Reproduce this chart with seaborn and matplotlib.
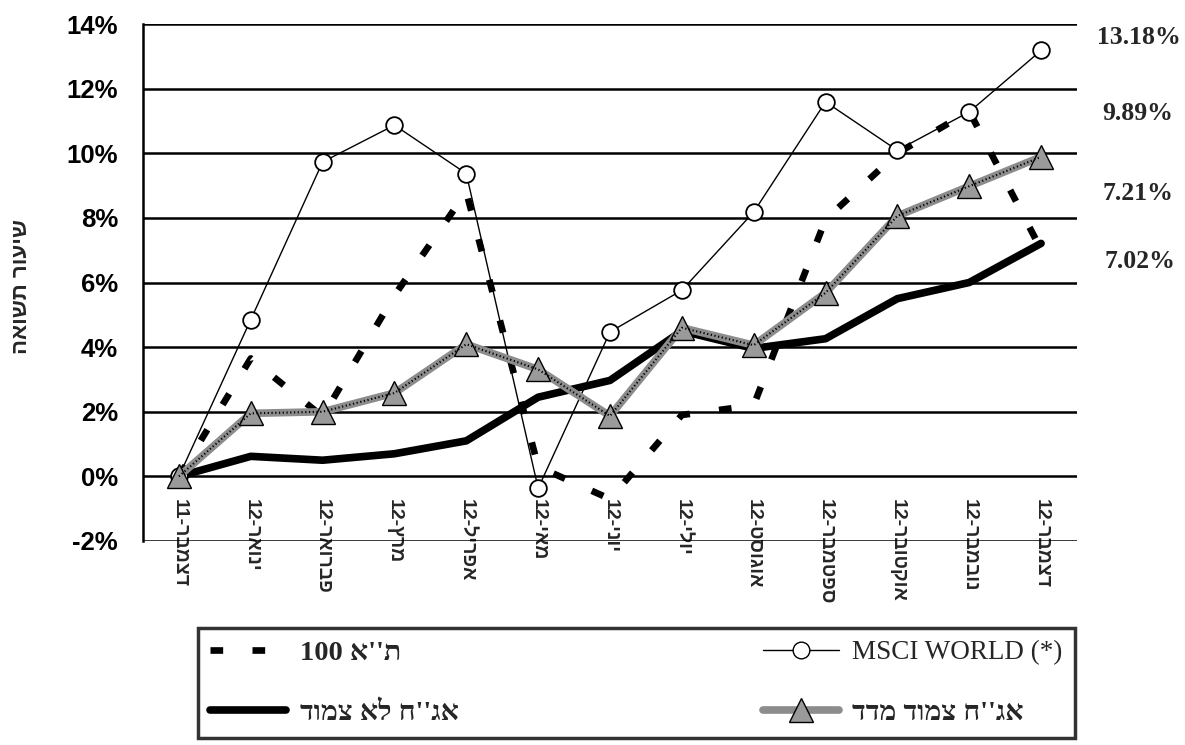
import numpy as np
import pandas as pd
import matplotlib
matplotlib.use("Agg")
import matplotlib.pyplot as plt
from matplotlib.lines import Line2D
import seaborn as sns

# ---- data -------------------------------------------------------------
months = ["דצמבר", "ינואר", "פברואר", "מרץ", "אפריל", "מאי", "יוני",
          "יולי", "אוגוסט", "ספטמבר", "אוקטובר", "נובמבר", "דצמבר"]
years = ["11"] + ["12"] * 12
msci = [0.0, 4.85, 9.73, 10.87, 9.37, -0.37, 4.47, 5.76, 8.18, 11.59, 10.09, 11.28, 13.18]
ta100 = [0.0, 3.65, 1.85, 5.6, 8.8, 0.3, -0.7, 1.9, 2.2, 7.95, 10.0, 11.3, 7.02]
madad = [0.0, 1.95, 2.0, 2.58, 4.09, 3.31, 1.87, 4.6, 4.06, 5.68, 8.06, 8.98, 9.89]
lo_madad = [0.0, 0.62, 0.5, 0.7, 1.1, 2.45, 2.97, 4.5, 3.96, 4.26, 5.5, 6.0, 7.21]
end_labels = ["13.18%", "9.89%", "7.21%", "7.02%"]
yticks = [-2, 0, 2, 4, 6, 8, 10, 12, 14]

lbl_ta = "ת''א 100"
lbl_msci = "MSCI WORLD (*)"
lbl_lo = "אג''ח לא צמוד"
lbl_madad = "אג''ח צמוד מדד"
ylabel = "שיעור תשואה"


def visual(s):
    """Hebrew right-to-left text laid out in visual (display) order."""
    parts = s.split(" ")
    out = []
    for p in parts[::-1]:
        out.append(p if p.isascii() else p[::-1])
    return " ".join(out)


# ---- style ------------------------------------------------------------
sns.set_style("white")
plt.rcParams["font.family"] = ["Liberation Sans", "DejaVu Sans"]
SERIF = ["Liberation Serif", "DejaVu Serif"]

df = pd.DataFrame({"x": np.arange(len(months)), "msci": msci, "ta": ta100,
                   "madad": madad, "lo": lo_madad})

fig = plt.figure(figsize=(11.85, 7.45), dpi=100)
ax = fig.add_axes([143 / 1185, 1 - 541 / 745, (1077 - 143) / 1185, (541 - 24) / 745])

# gridlines
for v in yticks:
    ax.axhline(v, color="black", lw=1.8, zorder=1)

TA_DASH = (1.9, 4.4)
TRI = dict(marker="^", markersize=17, markerfacecolor="#9a9a9a",
           markeredgecolor="black", markeredgewidth=1.0)

# series
sns.lineplot(data=df, x="x", y="lo", ax=ax, color="black", lw=5.5,
             solid_capstyle="round", zorder=3)
sns.lineplot(data=df, x="x", y="ta", ax=ax, color="black", lw=4.8,
             zorder=4).lines[-1].set_dashes(TA_DASH)
sns.lineplot(data=df, x="x", y="msci", ax=ax, color="black", lw=1.0,
             marker="o", markersize=12, markerfacecolor="white",
             markeredgecolor="black", markeredgewidth=1.3, zorder=5)
sns.lineplot(data=df, x="x", y="madad", ax=ax, color="#8c8c8c", lw=5.5,
             zorder=6, **TRI)
ln = ax.plot(df["x"], df["madad"], color="black", lw=1.5, zorder=7)[0]
ln.set_dashes((0.6, 1.2))

ax.set_xlim(-0.5, 12.5)
ax.set_ylim(-2, 14)
ax.set_xlabel("")
ax.set_ylabel("")

# axes / spines
for s in ["top", "right", "bottom"]:
    ax.spines[s].set_visible(False)
ax.spines["bottom"].set_position(("data", 0))
ax.spines["left"].set_linewidth(1.8)
ax.spines["left"].set_color("black")

ax.set_yticks(yticks)
ax.set_yticklabels([f"{v}%" for v in yticks], fontsize=18.5, fontweight="bold")
ax.tick_params(axis="y", direction="inout", length=12, width=1.5, pad=12, colors="black")

ax.set_xticks(df["x"])
xt = [y + "-" + m[::-1] for m, y in zip(months, years)]
ax.set_xticklabels(xt, rotation=270, fontsize=14, fontweight="bold", va="top", ha="center")
ax.tick_params(axis="x", length=0, pad=16)

# y label
fig.text(22 / 1185, 1 - 287 / 745, visual(ylabel), rotation=90, fontsize=16,
         fontweight="bold", ha="center", va="center")

# end labels
end_y = [38, 114, 193, 262]
end_x = [1097, 1102, 1102, 1105]
for t, yy, xx in zip(end_labels, end_y, end_x):
    fig.text(xx / 1185, 1 - yy / 745, t, fontsize=18.5, fontweight="bold",
             family=SERIF, ha="left", va="center")

# legend
h_ta = Line2D([], [], color="black", lw=4.8, dashes=TA_DASH)
h_lo = Line2D([], [], color="black", lw=5.5, solid_capstyle="round")
h_msci = Line2D([], [], color="black", lw=1.0, marker="o", markersize=12,
                markerfacecolor="white", markeredgecolor="black")
h_madad = Line2D([], [], color="#8c8c8c", lw=5.5, **TRI)
labels = [visual(lbl_ta), visual(lbl_lo), lbl_msci, visual(lbl_madad)]
leg = fig.legend([h_ta, h_lo, h_msci, h_madad], labels,
                 ncol=2, loc="lower left", mode="expand",
                 bbox_to_anchor=(198 / 1185, 7 / 745, (1075 - 198) / 1185, (737 - 630) / 745),
                 prop={"family": SERIF, "size": 19.5},
                 handlelength=2.8, handletextpad=0.5, fancybox=False, frameon=True,
                 borderaxespad=0, labelspacing=1.3, borderpad=0.45)
for t in leg.get_texts():
    if t.get_text() != lbl_msci:
        t.set_fontweight("bold")
        t.set_fontsize(20.5)
leg.get_frame().set_edgecolor("black")
leg.get_frame().set_linewidth(2.5)

fig.savefig("out.png", dpi=100)
